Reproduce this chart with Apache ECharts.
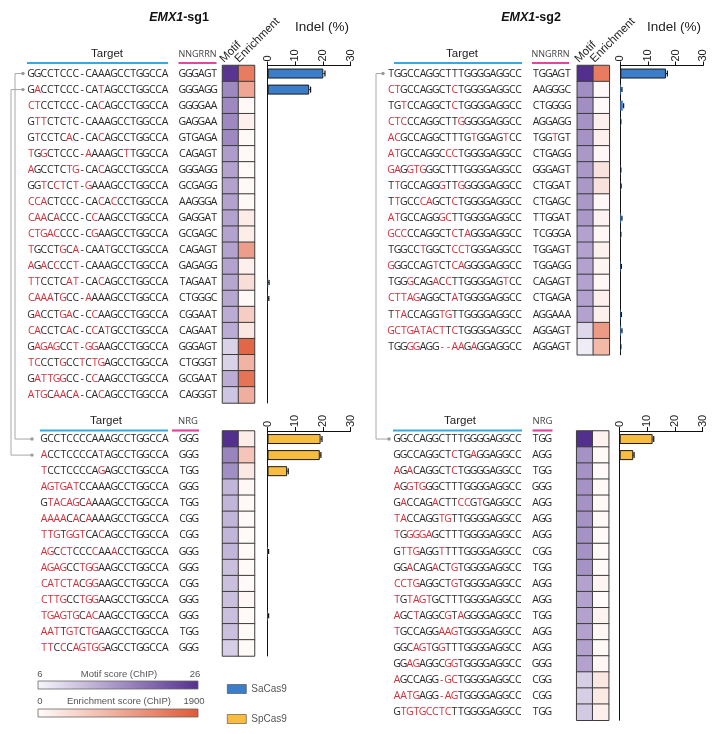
<!DOCTYPE html>
<html><head><meta charset="utf-8">
<script src="https://cdn.jsdelivr.net/npm/echarts@6/dist/echarts.min.js"></script>
<style>html,body{margin:0;padding:0;background:#fff}#c{width:718px;height:734px}</style>
</head><body><div id="c"></div>
<script>
// ---------- DATA (lowercase letter = mismatch shown in red, "~" = red gap) ----------
const sg1SaTargets = [
 "GGCCTCCC-CAAAGCCTGGCCA","GaCCTCCC-CAtAGCCTGGCCA","ctCCTCCC-CAcAGCCTGGCCA","GttCTCtC-CAAAGCCTGGCCA",
 "GtCCTCaC-CAcAGCCTGGCCA","tGgCTCCC-aAAAGCtTGGCCA","aGCCTCtg-CAcAGCCTGGCCA","GGtCctCt-gAAAGCCTGGCCA",
 "ccaCTCCC-CAcAcCCTGGCCA","caaCaCCC-CcAAGCCTGGCCA","ctgacCCC-CgAAGCCTGGCCA","tGCCTgCa-CAAtGCCTGGCCA",
 "aGaCcCCt-CAAAGCCTGGCCA","ttCCTCat-CAcAGCCTGGCCA","caaaTgCC-aAAAGCCTGGCCA","GaCCTgaC-CcAAGCCTGGCCA",
 "caCCTCaC-CcAtGCCTGGCCA","GagagCCt-ggAAGCCTGGCCA","tcCCTgCCtCtgAGCCTGGCCA","GattggCC-CcAAGCCTGGCCA",
 "atgCaaCa-CAcAGCCTGGCCA"];
const sg1SaPams = ["GGGAGT","GGGAGG","GGGGAA","GAGGAA","GTGAGA","CAGAGT","GGGAGG","GCGAGG","AAGGGA","GAGGAT",
 "GCGAGC","CAGAGT","GAGAGG","TAGAAT","CTGGGC","CGGAAT","CAGAAT","GGGAGT","CTGGGT","GCGAAT","CAGGGT"];
const sg1SaMotif = [25.5,17,17,17,17,15,14.5,14.5,14.5,14.5,14.5,14.5,14.5,14,14,13.5,13.5,9.5,9.5,13.5,11];
const sg1SaEnrich = [1500,1000,40,150,40,50,30,40,40,200,180,1100,150,350,40,550,250,1750,850,1600,900];
const sg1SaIndel = [20.1,15.0,0,0,0,0,0,0,0,0,0,0,0,0.2,0.1,0,0,0,0,0,0];
const sg1SaErr   = [0.6,0.5,0,0,0,0,0,0,0,0,0,0,0,0.3,0.3,0,0,0,0,0,0];

const sg2SaTargets = [
 "TGGCCAGGCTTTGGGGAGGCC","ctGCCAGGCTcTGGGGAGGCC","TGtCCAGGCTcTGGGGAGGCC","ctcCCAGGCTTgGGGGAGGCC",
 "acGCCAGGCTTTGtGGAGtCC","atGCCAGGCccTGGGGAGGCC","gaGgtgGGCTTTGGGGAGGCC","TtGCCAGGgTTgGGGGAGGCC",
 "TtGCCcaGCTcTGGGGAGGCC","atGCCAGGgcTTGGGGAGGCC","gccCCAGGCTcTaGGGAGGCC","TGGCCtGGCTcctGGGAGGCC",
 "gGGCCAGtCTcaGGGGAGGCC","TGGgCAGaCcTTGGGGAGtCC","cttagAGGCTaTGGGGAGGCC","TtaCCAGGtgTTGGGGAGGCC",
 "gctgatactTcTGGGGAGGCC","TGGggAGG~~aaGaGGAGGCC"];
const sg2SaPams = ["TGGAGT","AAGGGC","CTGGGG","AGGAGG","TGGtGT","CTGAGG","GGGAGT","CTGGAT","CTGAGC","TTGGAT",
 "TCGGGA","TGGAGT","TGGAGG","CAGAGT","CTGAGA","AGGAAA","AGGAGT","AGGAGT"];
const sg2SaMotif = [26,16.5,16.5,16,16,15.5,15.5,15.5,15.5,15.5,14.5,14.5,14.5,14.5,14.5,14.5,9,7];
const sg2SaEnrich = [1500,30,20,150,150,60,300,300,60,120,60,130,80,60,150,150,1150,800];
const sg2SaIndel = [16.5,0.3,0.9,0.1,0,0,0.1,0.1,0,0.3,0.1,0,0.2,0,0,0.2,0.3,0.1];
const sg2SaErr   = [0.5,0.3,0.3,0.1,0,0,0.1,0.2,0,0.3,0.1,0,0.2,0,0,0.2,0.3,0.1];

const sg1SpTargets = [
 "GCCTCCCCAAAGCCTGGCCA","aCCTCCCCAtAGCCTGGCCA","tCCTCCCCAgAGCCTGGCCA","agtgatCCAAAGCCTGGCCA",
 "GtacagCaAAAGCCTGGCCA","aaaaCaCaAAAGCCTGGCCA","ttgTggtCAcAGCCTGGCCA","agCctCCCcAAaCCTGGCCA",
 "agagCCtggAAGCCTGGCCA","catctaCggAAGCCTGGCCA","cttgCCtggAAGCCTGGCCA","tgagtgCacAAGCCTGGCCA",
 "aatTgtCtgAAGCCTGGCCA","ttCcCagtggAGCCTGGCCA"];
const sg1SpPams = ["GGG","GGG","TGG","GGG","TGG","CGG","CGG","GGG","GGG","CGG","GGG","GGG","TGG","GGG"];
const sg1SpMotif = [26,17.5,16.5,12.5,12.5,12.5,12.5,12.5,11.5,11.5,11.5,11.5,11.5,10];
const sg1SpEnrich = [180,650,230,60,50,20,30,30,30,20,60,30,30,30];
const sg1SpIndel = [19.2,18.9,7.1,0,0,0,0,0.1,0,0,0,0.1,0,0];
const sg1SpErr   = [0.5,0.4,0.4,0,0,0,0,0.3,0,0,0,0.3,0,0];

const sg2SpTargets = [
 "GGCCAGGCTTTGGGGAGGCC","GGCCAGGCTcTGaGGAGGCC","aGaCAGGCTcTGGGGAGGCC","aGgtgGGCTTTGGGGAGGCC",
 "GaCCAGaCTTccGtGAGGCC","taCCAGGtgTTGGGGAGGCC","tGgggaGCTTTGGGGAGGCC","GttgAGGtTTTGGGGAGGCC",
 "GGaCAGaCTgTGGGGAGGCC","cctgAGGCTgTGGGGAGGCC","tGtagtGCTTTGGGGAGGCC","aGCtAGGCgTaGGGGAGGCC",
 "tGCCAGGaagTGGGGAGGCC","GGCagtGgTTTGGGGAGGCC","GGagAGGCggTGGGGAGGCC","aGCCAGG~gcTGGGGAGGCC",
 "aatgAGG~agTGGGGAGGCC","GtgtgcctcTTGGGGAGGCC"];
const sg2SpPams = ["TGG","AGG","TGG","GGG","AGG","AGG","AGG","CGG","TGG","AGG","AGG","TGG","AGG","AGG","GGG","CGG","CGG","TGG"];
const sg2SpMotif = [26,16,16,16,16,16,16,16,16,14.5,14.5,14.5,14.5,14.5,14.5,10,10,10.5];
const sg2SpEnrich = [120,30,20,40,40,40,30,30,30,80,10,100,60,50,60,250,220,150];
const sg2SpIndel = [11.9,4.9,0,0,0,0,0,0,0,0,0,0,0,0,0,0,0,0];
const sg2SpErr   = [0.4,0.3,0,0,0,0,0,0,0,0,0,0,0,0,0,0,0,0];

const heatColumns = ["Motif","Enrichment"];
const indelTicks = {min:0, max:30, interval:10};
const motifRange = [6, 26];
const enrichRange = [0, 1900];
const legendNames = ["SaCas9","SpCas9"];

// ---------- LAYOUT ----------
const ROWH = 16.07, CW = 6.37;
const panels = [
  {t:sg1SaTargets,p:sg1SaPams,m:sg1SaMotif,e:sg1SaEnrich,v:sg1SaIndel,err:sg1SaErr,name:"SaCas9",color:"#3b7dc8",
   top:65.5,heatLeft:222.5,barLeft:267.7,seqLeft:28},
  {t:sg2SaTargets,p:sg2SaPams,m:sg2SaMotif,e:sg2SaEnrich,v:sg2SaIndel,err:sg2SaErr,name:"SaCas9",color:"#3b7dc8",
   top:65.5,heatLeft:577.3,barLeft:620.3,seqLeft:388},
  {t:sg1SpTargets,p:sg1SpPams,m:sg1SpMotif,e:sg1SpEnrich,v:sg1SpIndel,err:sg1SpErr,name:"SpCas9",color:"#f8bd3e",
   top:431,heatLeft:222.5,barLeft:267.5,seqLeft:41},
  {t:sg2SpTargets,p:sg2SpPams,m:sg2SpMotif,e:sg2SpEnrich,v:sg2SpIndel,err:sg2SpErr,name:"SpCas9",color:"#f8bd3e",
   top:431,heatLeft:576.7,barLeft:619.7,seqLeft:394}
];

const SEQFONT = {fontFamily:"Open Sans", fontSize:10.5, width:CW, align:"center", lineHeight:14};
const seqRich = {
  k: Object.assign({color:"#2a2a2a"}, SEQFONT),
  r: Object.assign({color:"#d3303c"}, SEQFONT),
  g: {width:11, fontSize:10.5}
};
function toRich(s){
  let out = "";
  for (const ch of s){
    if (ch === "~") out += "{r|-}";
    else if (ch >= "a" && ch <= "z") out += "{r|" + ch.toUpperCase() + "}";
    else out += "{k|" + ch + "}";
  }
  return out;
}
const AX = {fontFamily:"Liberation Sans", fontSize:11, color:"#222"};

const grid = [], xAxis = [], yAxis = [], series = [];
const motifSeries = [], enrichSeries = [];
panels.forEach((P, k) => {
  const n = P.t.length, h = n * ROWH;
  const idx = P.t.map((_, i) => String(i));
  grid.push({left:P.heatLeft, top:P.top, width:32, height:h});
  xAxis.push({type:"category", gridIndex:2*k, data:heatColumns, position:"top",
    axisLine:{show:false}, axisTick:{show:false}, axisLabel:{show:false}});
  yAxis.push({type:"category", gridIndex:2*k, data:idx, inverse:true,
    axisLine:{show:false}, axisTick:{show:false},
    axisLabel:{show:true, interval:0, align:"left", margin:P.heatLeft - P.seqLeft,
      formatter:(v, i) => toRich(P.t[i]) + "{g| }" + toRich(P.p[i]), rich:seqRich}});
  grid.push({left:P.barLeft, top:P.top, width:83, height:h});
  xAxis.push({type:"value", gridIndex:2*k+1, min:indelTicks.min, max:indelTicks.max, interval:indelTicks.interval,
    position:"top", splitLine:{show:false},
    axisLine:{show:true, lineStyle:{color:"#111", width:1}},
    axisTick:{show:true, length:4, lineStyle:{color:"#111"}},
    axisLabel:Object.assign({rotate:-90, margin:4}, AX)});
  yAxis.push({type:"category", gridIndex:2*k+1, data:idx, inverse:true,
    axisLine:{show:true, lineStyle:{color:"#111", width:1}}, axisTick:{show:false}, axisLabel:{show:false}});

  motifSeries.push(series.length);
  series.push({type:"heatmap", xAxisIndex:2*k, yAxisIndex:2*k, data:P.m.map((v,i)=>[0,i,v]),
    itemStyle:{borderColor:"#3c3c3c", borderWidth:1}, emphasis:{disabled:true}, silent:true});
  enrichSeries.push(series.length);
  series.push({type:"heatmap", xAxisIndex:2*k, yAxisIndex:2*k, data:P.e.map((v,i)=>[1,i,v]),
    itemStyle:{borderColor:"#3c3c3c", borderWidth:1}, emphasis:{disabled:true}, silent:true});
  series.push({type:"bar", name:P.name, xAxisIndex:2*k+1, yAxisIndex:2*k+1, barWidth:10, silent:true,
    data:P.v.map(v => v < 1 ? {value:v, itemStyle:{borderWidth:0}} : v),
    itemStyle:{color:P.color, borderColor:"#1a1a1a", borderWidth:1}});
  series.push({type:"custom", xAxisIndex:2*k+1, yAxisIndex:2*k+1, encode:{x:0, y:1}, z:5, silent:true,
    data:P.v.map((v,i)=>[v,i,P.err[i]]),
    renderItem:(params, api) => {
      const v = api.value(0), i = api.value(1), e = api.value(2);
      if (!e) return null;
      const p0 = api.coord([v, i]), p1 = api.coord([v + e, i]);
      const hh = v < 1 ? 2.5 : 3;
      return {type:"group", children:[
        {type:"line", shape:{x1:p0[0], y1:p0[1], x2:p1[0], y2:p1[1]}, style:{stroke:"#111", lineWidth:1}},
        {type:"line", shape:{x1:p1[0], y1:p1[1]-hh, x2:p1[0], y2:p1[1]+hh}, style:{stroke:"#111", lineWidth:1.2}}
      ]};
    }});
});

// ---------- static decorations ----------
const T = (text, x, y, o) => Object.assign({type:"text", x, y, silent:true,
  style:Object.assign({text, fill:"#222", fontFamily:"Liberation Sans", fontSize:11.5, align:"center", verticalAlign:"middle"}, o||{})});
const R45 = (text, x, y) => ({type:"text", x, y, rotation:Math.PI/4, silent:true,
  style:{text, fill:"#222", fontFamily:"Liberation Sans", fontSize:11.5, align:"left", verticalAlign:"bottom"}});
const L = (x1, y1, x2, y2, stroke, w) => ({type:"line", silent:true, shape:{x1,y1,x2,y2}, style:{stroke, lineWidth:w}});
const BLUE = "#37a9df", PINK = "#e0489a";
const graphics = [
  T("Target", 107, 54), L(27, 63, 168, 63, BLUE, 2.2),
  T("NNGRRN", 197.5, 54, {fontFamily:"Open Sans", fontSize:9, fill:"#444"}), L(178.5, 63, 216.5, 63, PINK, 2.2),
  T("Target", 462, 54), L(394, 63, 522, 63, BLUE, 2.2),
  T("NNGRRN", 550.5, 54, {fontFamily:"Open Sans", fontSize:9, fill:"#444"}), L(532, 63, 569, 63, PINK, 2.2),
  T("Target", 106, 421), L(40, 430.5, 168, 430.5, BLUE, 2.2),
  T("NRG", 188, 421, {fontFamily:"Open Sans", fontSize:9.5, fill:"#444"}), L(172, 430.5, 199, 430.5, PINK, 2.2),
  T("Target", 460, 421), L(393, 430.5, 522, 430.5, BLUE, 2.2),
  T("NRG", 542.5, 421, {fontFamily:"Open Sans", fontSize:9.5, fill:"#444"}), L(532.5, 430.5, 552.5, 430.5, PINK, 2.2),
  R45(heatColumns[0], 226, 65), R45(heatColumns[1], 241, 65),
  R45(heatColumns[0], 581, 65), R45(heatColumns[1], 596.5, 65),
  T("Indel (%)", 322, 27, {fontSize:13.5}),
  T("Indel (%)", 674, 27, {fontSize:13.5}),
  {type:"rect", silent:true, shape:{x:38, y:681, width:160, height:8},
   style:{fill:{type:"linear", x:0, y:0, x2:1, y2:0, colorStops:[{offset:0,color:"#f7f6fb"},{offset:1,color:"#54308e"}]}, stroke:"#666", lineWidth:0.8}},
  T(String(motifRange[0]), 40, 674, {fontSize:9.5, fill:"#555"}),
  T("Motif score (ChIP)", 119, 674, {fontSize:9.5, fill:"#555"}),
  T(String(motifRange[1]), 195, 674, {fontSize:9.5, fill:"#555"}),
  {type:"rect", silent:true, shape:{x:38, y:709, width:160, height:8},
   style:{fill:{type:"linear", x:0, y:0, x2:1, y2:0, colorStops:[{offset:0,color:"#fffcfb"},{offset:1,color:"#e05a37"}]}, stroke:"#666", lineWidth:0.8}},
  T(String(enrichRange[0]), 40, 701.5, {fontSize:9.5, fill:"#555"}),
  T("Enrichment score (ChIP)", 119, 701.5, {fontSize:9.5, fill:"#555"}),
  T(String(enrichRange[1]), 194, 701.5, {fontSize:9.5, fill:"#555"})
];

const titleRich = {i:{fontStyle:"italic", fontFamily:"Liberation Sans", fontSize:12.5, color:"#111"},
                   b:{fontWeight:"bold", fontFamily:"Liberation Sans", fontSize:12.5, color:"#111"}};
const option = {
  animation:false,
  backgroundColor:"#fff",
  title:[
    {text:"{i|EMX1}{b|-sg1}", left:179, top:11, textAlign:"center", padding:0, textStyle:{rich:titleRich}},
    {text:"{i|EMX1}{b|-sg2}", left:531, top:11, textAlign:"center", padding:0, textStyle:{rich:titleRich}}
  ],
  legend:{data:legendNames, orient:"vertical", left:222, top:679, itemWidth:19, itemHeight:9, itemGap:20,
    icon:"rect", selectedMode:false, itemStyle:{borderWidth:0.6, borderColor:"#444"},
    textStyle:{fontFamily:"Liberation Sans", fontSize:10, color:"#555"}},
  visualMap:[
    {show:false, type:"continuous", seriesIndex:motifSeries, dimension:2, min:motifRange[0], max:motifRange[1],
     inRange:{color:["#f7f6fb","#54308e"]}},
    {show:false, type:"continuous", seriesIndex:enrichSeries, dimension:2, min:enrichRange[0], max:enrichRange[1],
     inRange:{color:["#fffcfb","#e05a37"]}}
  ],
  grid, xAxis, yAxis, series,
  graphic: graphics
};

const chart = echarts.init(document.getElementById("c"));
chart.setOption(option);

// connectors between the on-target rows (positions from the axes)
const rowY = (k, i) => chart.convertToPixel({gridIndex:2*k+1}, [0, i])[1];
const GRAY = "#a8a8a8";
const conn = (pts, dots) => {
  graphics.push({type:"polyline", silent:true, shape:{points:pts}, style:{stroke:GRAY, lineWidth:1, fill:null}});
  dots.forEach(d => graphics.push({type:"circle", silent:true, shape:{cx:d[0], cy:d[1], r:1.7}, style:{fill:"#999"}}));
};
const a0 = rowY(0,0), a1 = rowY(0,1), b0 = rowY(2,0), b1 = rowY(2,1);
conn([[23,a0],[15,a0],[15,b0],[32,b0]], [[23,a0],[32,b0]]);
conn([[23,a1],[11,a1],[11,b1],[32,b1]], [[23,a1],[32,b1]]);
const c0 = rowY(1,0), d0 = rowY(3,0);
conn([[383,c0],[376,c0],[376,d0],[389,d0]], [[383,c0],[389,d0]]);
chart.setOption({graphic: graphics});
</script></body></html>
